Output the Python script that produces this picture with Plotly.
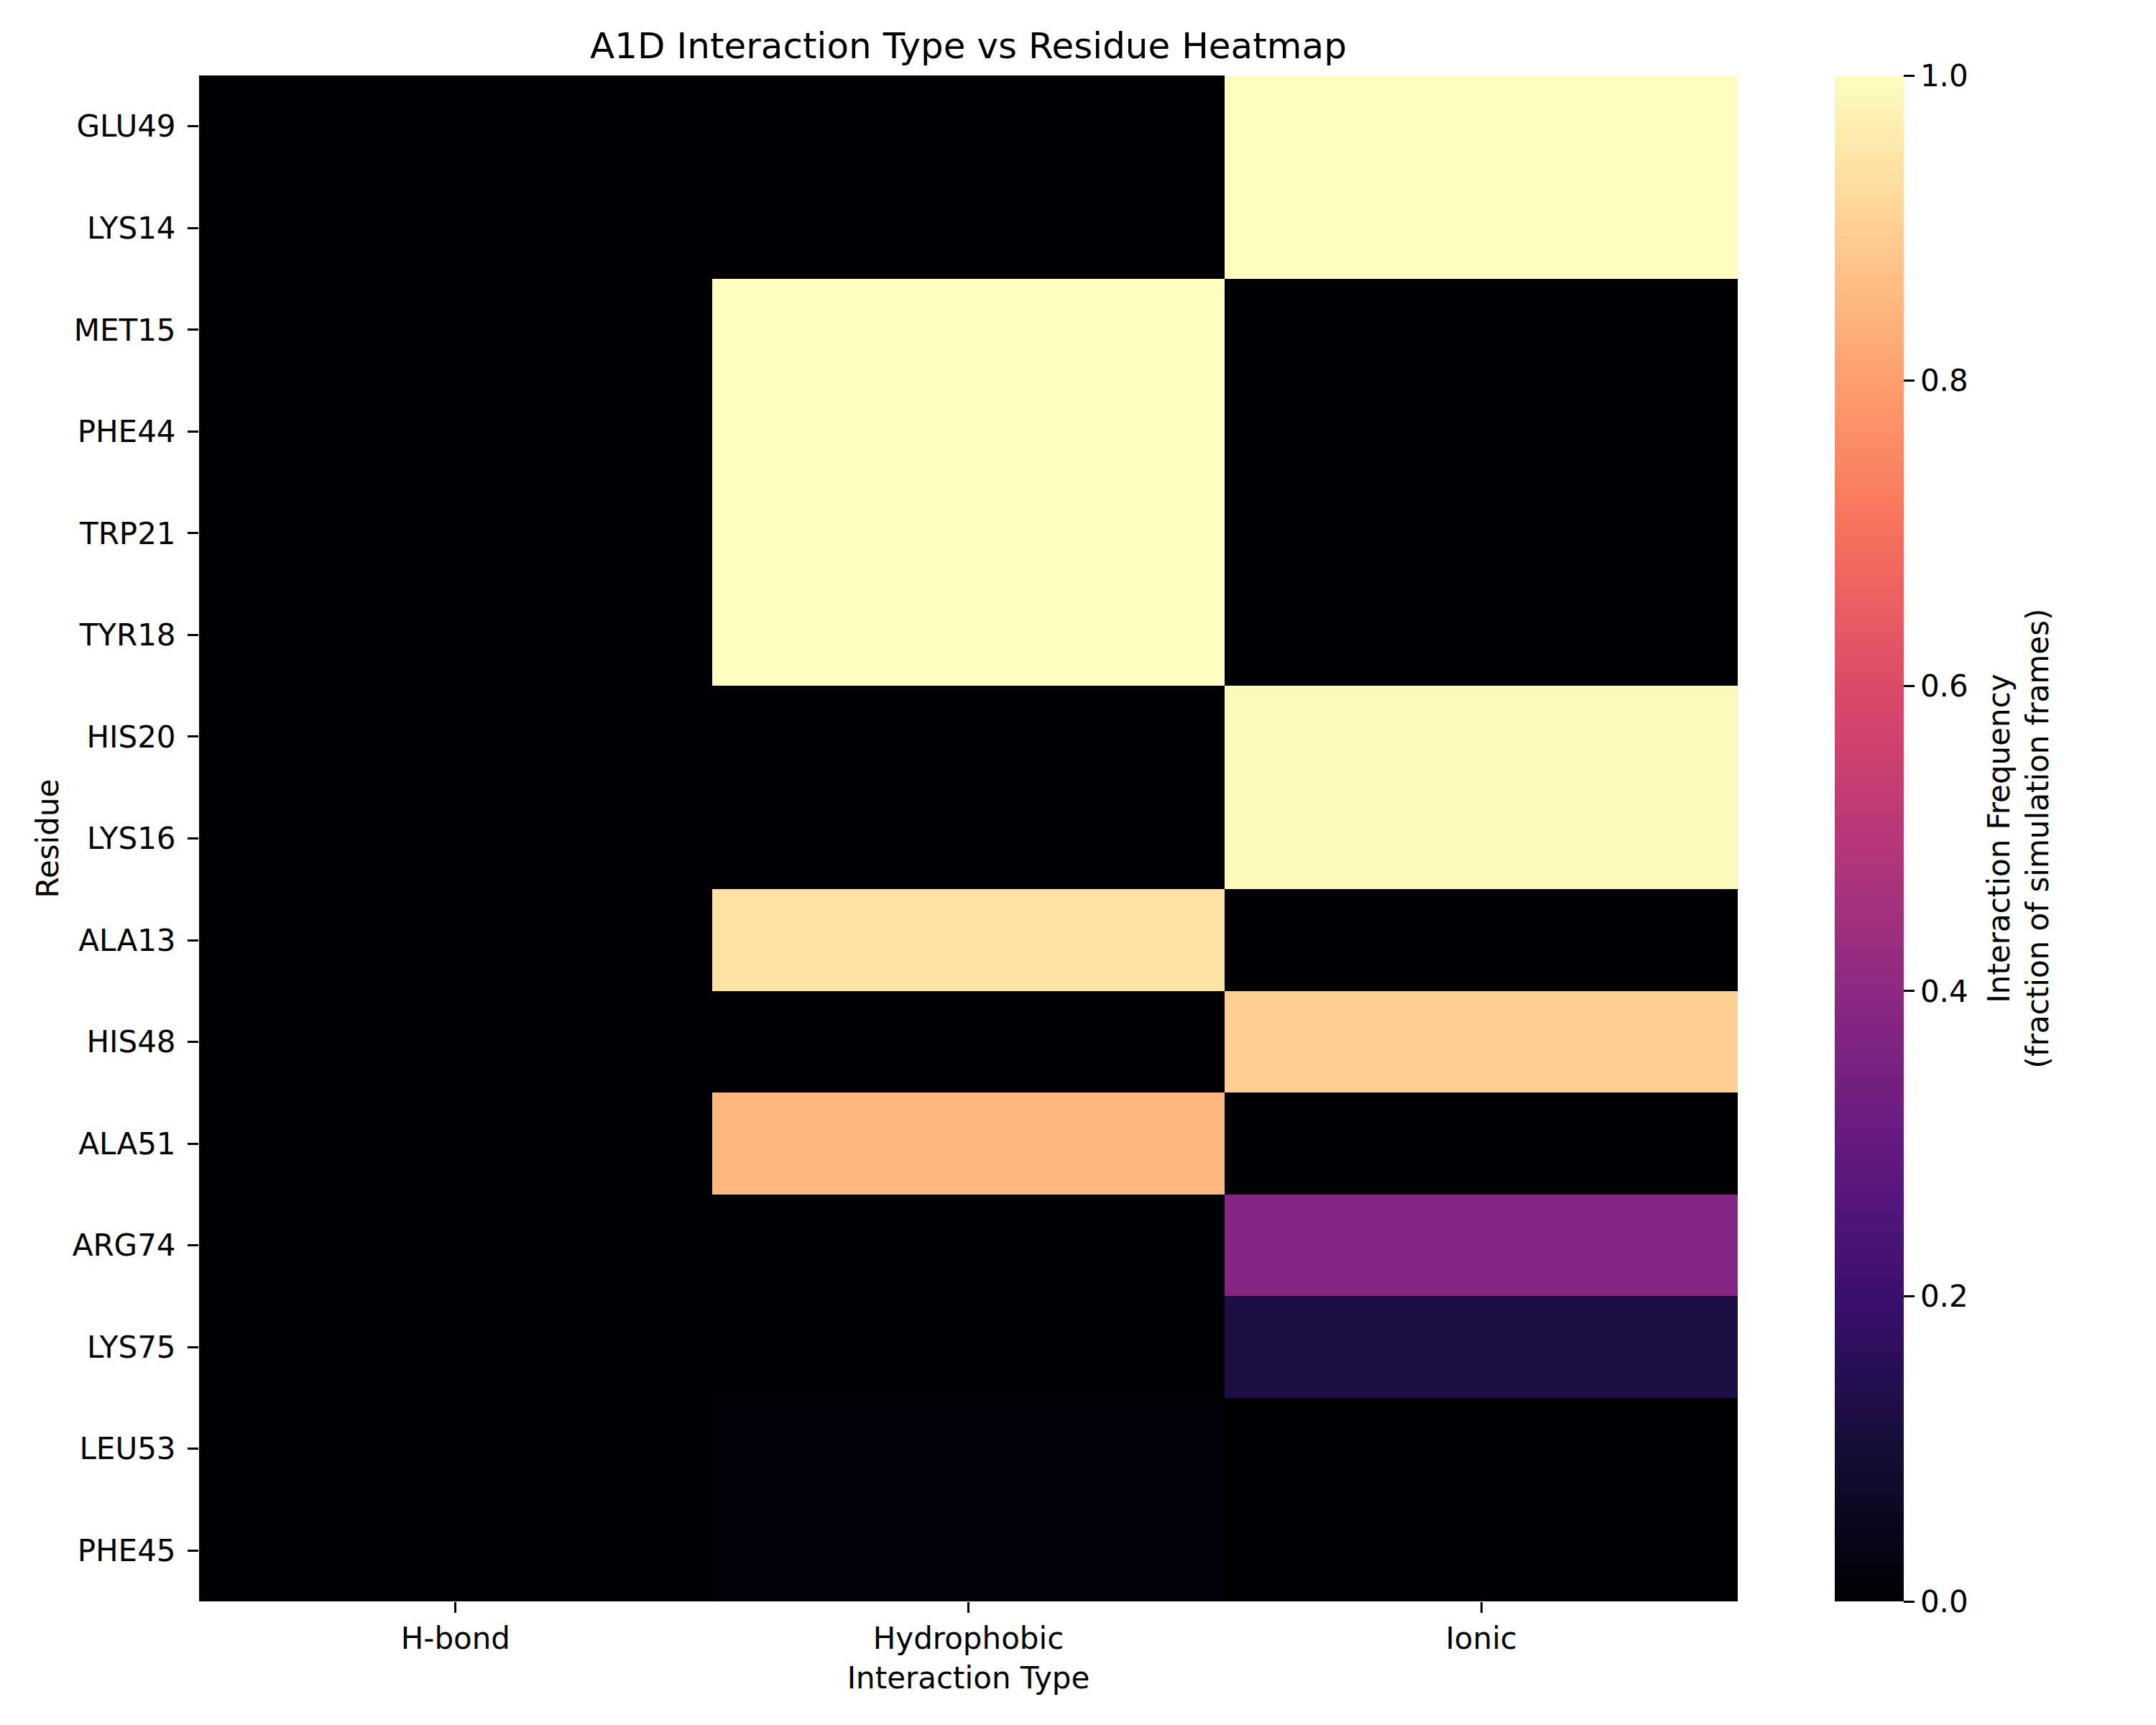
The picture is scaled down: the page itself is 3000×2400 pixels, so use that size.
import plotly.graph_objects as go

residues = ['GLU49', 'LYS14', 'MET15', 'PHE44', 'TRP21', 'TYR18', 'HIS20', 'LYS16',
            'ALA13', 'HIS48', 'ALA51', 'ARG74', 'LYS75', 'LEU53', 'PHE45']
interaction_types = ['H-bond', 'Hydrophobic', 'Ionic']

hbond = [0, 0, 0, 0, 0, 0, 0, 0, 0, 0, 0, 0, 0, 0, 0]
hydrophobic = [0, 0, 1.0, 1.0, 1.0, 1.0, 0, 0, 0.94, 0, 0.85, 0, 0, 0.01, 0.01]
ionic = [1.0, 1.0, 0, 0, 0, 0, 0.99, 0.99, 0, 0.90, 0, 0.38, 0.12, 0, 0]

cbar_ticks = [0.0, 0.2, 0.4, 0.6, 0.8, 1.0]

# magma, sampled every 0.1
magma = ['#000004', '#140e36', '#3b0f70', '#641a80', '#8c2981', '#b73779',
         '#de4968', '#f7705c', '#fe9f6d', '#fecf92', '#fcfdbf']
magma_scale = [[i / (len(magma) - 1), c] for i, c in enumerate(magma)]

z = [list(row) for row in zip(hbond, hydrophobic, ionic)]

FONT = 'DejaVu Sans'
W, H = 3000, 2400
L, R, T, B = 269, 590, 97, 180
plot_w = W - L - R

fig = go.Figure()
fig.add_trace(go.Heatmap(
    z=z,
    x=interaction_types,
    y=residues,
    zmin=0, zmax=1,
    colorscale=magma_scale,
    colorbar=dict(
        x=(2545 - L) / plot_w,
        xanchor='left',
        y=0.5, yanchor='middle',
        len=1, lenmode='fraction',
        thickness=96,
        outlinewidth=0,
        tickvals=cbar_ticks,
        tickformat='.1f',
        ticks='outside',
        ticklen=15,
        tickwidth=3.3,
        tickcolor='black',
        tickfont=dict(family=FONT, size=42, color='black'),
        ypad=0,
        xpad=0,
    ),
    hovertemplate='%{y} / %{x}: %{z:.2f}<extra></extra>',
))

# colorbar label, reading bottom to top like matplotlib
fig.add_annotation(
    text='Interaction Frequency<br>(fraction of simulation frames)',
    textangle=-90,
    xref='paper', yref='paper',
    x=(2800 - L) / plot_w, y=0.5,
    xanchor='center', yanchor='middle',
    showarrow=False,
    font=dict(family=FONT, size=42, color='black'),
)

fig.update_layout(
    width=W, height=H,
    margin=dict(l=L, r=R, t=T, b=B),
    paper_bgcolor='white',
    plot_bgcolor='white',
    font=dict(family=FONT, size=42, color='black'),
    title=dict(
        text='A1D Interaction Type vs Residue Heatmap',
        font=dict(family=FONT, size=50, color='black'),
        x=(L + plot_w / 2) / W, xanchor='center', xref='container',
        y=1 - 55 / H, yanchor='middle', yref='container',
    ),
    xaxis=dict(
        title=dict(text='Interaction Type', font=dict(size=42), standoff=16),
        ticks='outside', ticklen=15, tickwidth=3.3, tickcolor='black',
        ticklabelstandoff=0,
        showgrid=False, zeroline=False, showline=False,
        tickfont=dict(size=42),
    ),
    yaxis=dict(
        title=dict(text='Residue', font=dict(size=42), standoff=5),
        autorange='reversed',
        ticks='outside', ticklen=15, tickwidth=3.3, tickcolor='black',
        ticklabelstandoff=8,
        showgrid=False, zeroline=False, showline=False,
        tickfont=dict(size=42),
    ),
)

fig.write_html('out.html')
